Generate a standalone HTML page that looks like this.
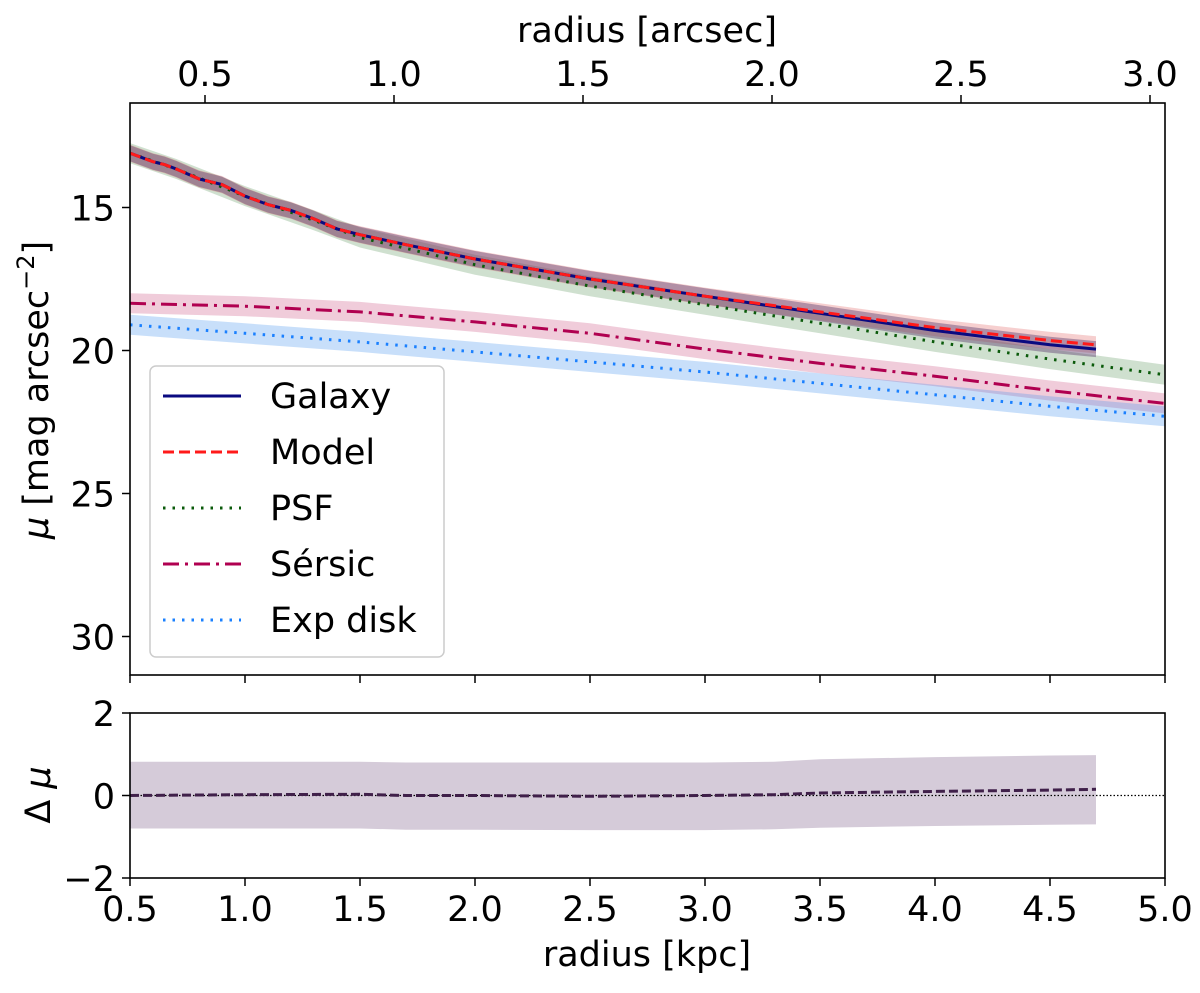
<!DOCTYPE html>
<html><head><meta charset="utf-8"><style>
body{margin:0;background:#fff}
svg text{font-family:"DejaVu Sans","Liberation Sans",sans-serif;fill:#000}
</style></head><body>
<svg id="chart" width="1200" height="988" viewBox="0 0 1200 988" xmlns="http://www.w3.org/2000/svg">
<g id="main"></g>
<g id="resid"></g>
</svg>
<script>
const radiusKpc=[0.5,0.6,0.65,0.7,0.8,0.9,1.0,1.1,1.2,1.3,1.4,1.5,1.7,2.0,2.5,3.0,3.5,4.0,4.5,4.7];
const galaxyMu=[13.1,13.4,13.5,13.65,14.0,14.2,14.6,14.9,15.1,15.4,15.75,15.95,16.3,16.8,17.5,18.1,18.7,19.3,19.8,19.95];
const modelMu=[13.1,13.4,13.5,13.65,14.0,14.2,14.6,14.9,15.1,15.4,15.75,15.95,16.3,16.8,17.5,18.1,18.65,19.2,19.65,19.8];
const psfKpc=[0.5,0.7,1.0,1.3,1.5,2.0,2.5,3.0,3.5,4.0,4.5,5.0];
const psfMu=[13.1,13.65,14.6,15.45,16.05,17.0,17.75,18.4,19.05,19.7,20.3,20.85];
const compKpc=[0.5,1.0,1.5,2.0,2.5,3.0,3.5,4.0,4.5,5.0];
const sersicMu=[18.35,18.45,18.65,19.0,19.4,19.95,20.45,20.9,21.4,21.85];
const expMu=[19.1,19.4,19.7,20.05,20.4,20.75,21.15,21.55,21.95,22.3];
const residKpc=[0.5,1.0,1.5,1.7,2.0,2.5,3.0,3.3,3.5,4.0,4.5,4.7];
const residVal=[0.0,0.02,0.03,0.0,0.0,-0.02,0.0,0.02,0.06,0.1,0.13,0.15];
const residHi=[0.82,0.82,0.82,0.8,0.8,0.8,0.8,0.82,0.88,0.93,0.97,0.98];
const residLo=[-0.8,-0.8,-0.8,-0.83,-0.83,-0.84,-0.84,-0.82,-0.78,-0.74,-0.71,-0.7];
const kpcTicks=[0.5,1.0,1.5,2.0,2.5,3.0,3.5,4.0,4.5,5.0];
const arcTicks=[0.5,1.0,1.5,2.0,2.5,3.0];
const muTicks=[15,20,25,30];
const dTicks=[2,0,-2];
const legendLabels=["Galaxy","Model","PSF","Sérsic","Exp disk"];

const NS="http://www.w3.org/2000/svg";
const L=130,R=1165;
const X=k=>L+(k-0.5)*(R-L)/4.5;
const XA=a=>205+(a-0.5)*378;
const Y=m=>207.5+(m-15)*28.6;
const YD=d=>795.5-d*41.25;
const FS=35;
function mk(parent,tag,attrs,text){const e=document.createElementNS(NS,tag);for(const k in attrs)e.setAttribute(k,attrs[k]);if(text!==undefined)e.textContent=text;parent.appendChild(e);return e;}
const main=document.getElementById('main'),resid=document.getElementById('resid');
function pts(xs,ys,fx,fy){return xs.map((x,i)=>fx(x).toFixed(1)+','+fy(ys[i]).toFixed(1)).join(' ');}
function band(g,xs,ys,w,fill,op,name){
  const up=xs.map((x,i)=>X(x).toFixed(1)+','+Y(ys[i]-w).toFixed(1));
  const dn=xs.map((x,i)=>X(x).toFixed(1)+','+Y(ys[i]+w).toFixed(1)).reverse();
  const p=mk(g,'polygon',{points:up.concat(dn).join(' '),fill:fill,'fill-opacity':op});
  
  
}
function line(g,xs,ys,stroke,dash,name,w){
  const p=mk(g,'polyline',{points:pts(xs,ys,X,Y),fill:'none',stroke:stroke,'stroke-width':w||3,'stroke-dasharray':dash});
  
  
}
const clip=mk(main,'clipPath',{id:'cp'});mk(clip,'rect',{x:L,y:103,width:R-L,height:572});
const cg=mk(main,'g',{'clip-path':'url(#cp)'});
band(cg,psfKpc,psfMu,0.35,'#6a9e6a',0.32,'psf-band');
band(cg,compKpc,sersicMu,0.35,'#d0608c',0.32,'sersic-band');
band(cg,compKpc,expMu,0.35,'#4a96f0',0.3,'exp-disk-band');
band(cg,radiusKpc,modelMu,0.3,'#e06060',0.3,'model-band');
band(cg,radiusKpc,galaxyMu,0.28,'#604070',0.45,'galaxy-band');
line(cg,psfKpc,psfMu,'#0a5a0a','2.5 7','psf-line');
line(cg,compKpc,sersicMu,'#b00050','16 6 3 6','sersic-line');
line(cg,compKpc,expMu,'#1a80ff','2.5 7','exp-disk-line');
line(cg,radiusKpc,galaxyMu,'#0a0a80','none','galaxy-line');
line(cg,radiusKpc,modelMu,'#ff1a1a','11 5','model-line');
let f=mk(main,'rect',{x:L,y:103,width:R-L,height:572,fill:'none',stroke:'#000','stroke-width':1.6});

muTicks.forEach(m=>{mk(main,'line',{x1:L-8,x2:L,y1:Y(m),y2:Y(m),stroke:'#000','stroke-width':1.5});
  const t=mk(main,'text',{x:L-15,y:Y(m)+13,'text-anchor':'end','font-size':FS},m);
  });
kpcTicks.forEach(k=>{mk(main,'line',{x1:X(k),x2:X(k),y1:675,y2:683,stroke:'#000','stroke-width':1.5});});
arcTicks.forEach(a=>{mk(main,'line',{x1:XA(a),x2:XA(a),y1:95,y2:103,stroke:'#000','stroke-width':1.5});
  const t=mk(main,'text',{x:XA(a),y:86,'text-anchor':'middle','font-size':FS},a.toFixed(1));
  });
let t=mk(main,'text',{x:647,y:42,'text-anchor':'middle','font-size':FS},'radius [arcsec]');

t=mk(main,'text',{transform:'translate(48,390) rotate(-90)','text-anchor':'middle','font-size':FS});
t.innerHTML='<tspan font-style="italic">μ</tspan> [mag arcsec<tspan dy="-14" font-size="24">−2</tspan><tspan dy="14">]</tspan>';

const lg=mk(main,'g',{});
mk(lg,'rect',{x:150,y:366,width:294,height:291,rx:6,fill:'#fff','fill-opacity':0.85,stroke:'#ccc','stroke-width':1.5});
const lgStyle=[['#0a0a80','none'],['#ff1a1a','11 5'],['#0a5a0a','2.5 7'],['#b00050','16 6 3 6'],['#1a80ff','2.5 7']];
legendLabels.forEach((lab,i)=>{const y=396+i*56;
  const e=mk(lg,'g',{});
  mk(e,'line',{x1:163,x2:241,y1:y,y2:y,stroke:lgStyle[i][0],'stroke-width':3,'stroke-dasharray':lgStyle[i][1]});
  mk(e,'text',{x:270,y:y+12,'font-size':FS},lab);});
const RT=713,RB=878;
const up=residKpc.map((x,i)=>X(x).toFixed(1)+','+YD(residHi[i]).toFixed(1));
const dn=residKpc.map((x,i)=>X(x).toFixed(1)+','+YD(residLo[i]).toFixed(1)).reverse();
let p=mk(resid,'polygon',{points:up.concat(dn).join(' '),fill:'#d5cbd9'});

p=mk(resid,'line',{x1:L,x2:R,y1:YD(0),y2:YD(0),stroke:'#000','stroke-width':1.3,'stroke-dasharray':'1.5 2'});

p=mk(resid,'polyline',{points:pts(residKpc,residVal,X,YD),fill:'none',stroke:'#40204a','stroke-width':3,'stroke-dasharray':'9 4'});

f=mk(resid,'rect',{x:L,y:RT,width:R-L,height:RB-RT,fill:'none',stroke:'#000','stroke-width':1.6});

dTicks.forEach(d=>{mk(resid,'line',{x1:L-8,x2:L,y1:YD(d),y2:YD(d),stroke:'#000','stroke-width':1.5});
  const t=mk(resid,'text',{x:L-15,y:YD(d)+13,'text-anchor':'end','font-size':FS},d<0?'−'+(-d):d);
  });
kpcTicks.forEach(k=>{mk(resid,'line',{x1:X(k),x2:X(k),y1:RB,y2:RB+8,stroke:'#000','stroke-width':1.5});
  const t=mk(resid,'text',{x:X(k),y:RB+43,'text-anchor':'middle','font-size':FS},k.toFixed(1));
  });
t=mk(resid,'text',{x:647,y:966,'text-anchor':'middle','font-size':FS},'radius [kpc]');

t=mk(resid,'text',{transform:'translate(50,795) rotate(-90)','text-anchor':'middle','font-size':FS});
t.innerHTML='Δ <tspan font-style="italic">μ</tspan>';

</script>
</body></html>
